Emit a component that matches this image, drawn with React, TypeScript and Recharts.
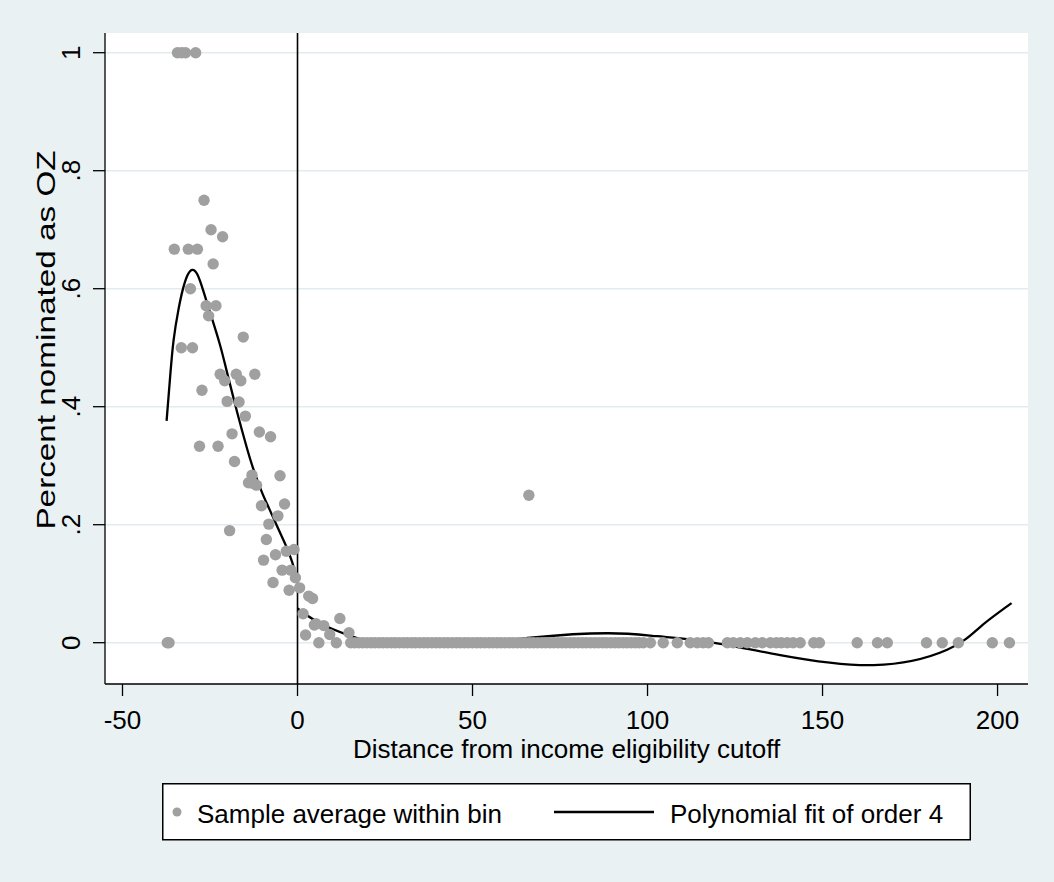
import React from 'react';
import { ComposedChart, Scatter, Line, XAxis, YAxis, CartesianGrid, ReferenceLine, Label } from 'recharts';

// Binned sample averages (left of cutoff and just right of it)
const binX = [
  -34.3, -33.1, -32.0, -29.1,
  -26.7, -24.7, -21.4, -35.2, -31.2, -28.6, -24.1, -30.6, -26.1, -23.3, -25.4, -15.5,
  -33.2, -30.0, -22.1, -20.8, -17.5, -16.2, -12.2, -27.3, -20.1, -16.7, -14.9, -18.7,
  -10.9, -7.7, -28.0, -22.7, -18.0, -5.0, -13.0, -14.0, -11.7, -12.7, -10.3, -3.7,
  -5.6, -19.4, -8.2, -8.9, -3.2, -1.0, -6.3, -9.7, -4.4, -1.9, -0.6, -7.0, -2.4,
  -37.2, -36.7,
  0.6, 3.2, 4.3, 1.6, 12.1, 5.3, 7.5, 2.3, 9.2, 6.1, 11.1, 4.8, 14.7, 66.1,
];
const binY = [
  1.0, 1.0, 1.0, 1.0,
  0.75, 0.70, 0.688, 0.667, 0.667, 0.667, 0.642, 0.60, 0.571, 0.571, 0.554, 0.518,
  0.50, 0.50, 0.455, 0.444, 0.455, 0.444, 0.455, 0.428, 0.409, 0.408, 0.384, 0.354,
  0.357, 0.349, 0.333, 0.333, 0.307, 0.283, 0.284, 0.271, 0.267, 0.270, 0.232, 0.235,
  0.215, 0.190, 0.201, 0.175, 0.155, 0.158, 0.149, 0.140, 0.123, 0.123, 0.110, 0.102, 0.089,
  0, 0,
  0.093, 0.079, 0.075, 0.049, 0.041, 0.032, 0.029, 0.013, 0.014, 0, 0, 0.030, 0.017, 0.25,
];
// Bins whose average is zero
const zeroBinX = [
  15.2, 16.3, 17.5, 18.6, 19.8, 21.0, 22.1, 23.3, 24.4, 25.6, 26.8, 27.9, 29.1, 30.3, 31.4,
  32.6, 33.7, 34.9, 36.1, 37.2, 38.4, 39.6, 40.7, 41.9, 43.0, 44.2, 45.4, 46.5, 47.7, 48.8,
  50.0, 51.2, 52.3, 53.5, 54.7, 55.8, 57.0, 58.1, 59.3, 60.5, 61.6, 62.8, 63.9, 65.1, 66.3,
  67.4, 68.6, 69.8, 70.9, 72.1, 73.2, 74.4, 75.6, 76.7, 77.9, 79.0, 80.2, 81.4, 82.5, 83.7,
  84.9, 86.0, 87.2, 88.3, 89.5, 90.7, 91.8, 93.0, 94.1, 95.3, 96.5, 97.6, 98.8,
  100.8, 104.5, 108.5, 112.2, 114.2, 115.9, 117.4,
  122.8, 124.5, 126.5, 128.5, 130.8, 132.8, 135.1, 136.8, 138.2, 139.9, 141.6, 143.6,
  147.5, 149.1, 159.9, 165.7, 168.5, 179.7, 184.2, 188.8, 198.5, 203.4,
];

// Polynomial fit (order 4)
const fitLeftX = [-37.4, -36.4, -35.4, -34.0, -32.8, -31.5, -30.1, -28.6, -27.0, -25.0, -22.3, -20.3, -17.3, -14.6, -12.7, -10.3, -8.0, -5.5, -3.2, -1.5, 0];
const fitLeftY = [0.376, 0.45, 0.513, 0.565, 0.598, 0.622, 0.632, 0.624, 0.598, 0.560, 0.508, 0.462, 0.392, 0.333, 0.296, 0.257, 0.226, 0.193, 0.163, 0.136, 0.104];
const fitRightX = [0, 6.4, 14.9, 24.5, 38.8, 53.1, 67.4, 88.4, 102.7, 117.0, 137.9, 164.6, 185.6, 195.1, 204.0];
const fitRightY = [0.058, 0.033, 0.012, -0.003, -0.007, -0.001, 0.009, 0.016, 0.011, 0.002, -0.021, -0.038, -0.012, 0.027, 0.067];

const xTicks = [-50, 0, 50, 100, 150, 200];
const yTicks = [0, 0.2, 0.4, 0.6, 0.8, 1];
const yTickLabels = ['0', '.2', '.4', '.6', '.8', '1'];

const xTitle = 'Distance from income eligibility cutoff';
const yTitle = 'Percent nominated as OZ';
const legendDots = 'Sample average within bin';
const legendLine = 'Polynomial fit of order 4';

const scatterData = [
  ...binX.map((x, i) => ({ x, y: binY[i] })),
  ...zeroBinX.map((x) => ({ x, y: 0 })),
];
const leftFit = fitLeftX.map((x, i) => ({ x, y: fitLeftY[i] }));
const rightFit = fitRightX.map((x, i) => ({ x, y: fitRightY[i] }));

const FONT = '"Liberation Sans", Arial, Helvetica, sans-serif';
const BG = '#e9f1f3';
const GRID = '#e2ecef';
const MARK = '#a0a0a0';

const Dot = (p: any) => <circle cx={p.cx} cy={p.cy} r={5.7} fill={MARK} />;

const YTick = (p: any) => {
  const { x, y, payload } = p;
  const idx = yTicks.indexOf(payload.value);
  const label = idx >= 0 ? yTickLabels[idx] : String(payload.value);
  const bx = x - 2;
  return (
    <text x={bx} y={y} transform={`rotate(-90 ${bx} ${y})`} textAnchor="middle" fontSize={26} fontFamily={FONT} fill="#000">
      {label}
    </text>
  );
};

export default function App() {
  return (
    <div style={{ position: 'absolute', left: 0, top: 0, width: 1054, height: 882, background: BG, fontFamily: FONT }}>
      <ComposedChart width={1054} height={882} margin={{ top: 33, right: 26, bottom: 118, left: 0 }}>
        <CartesianGrid vertical={false} horizontal fill="#ffffff" stroke={GRID} strokeWidth={1.5} horizontalValues={yTicks} />
        <XAxis
          type="number"
          dataKey="x"
          domain={[-55, 208.7]}
          ticks={xTicks}
          allowDataOverflow
          height={80}
          tickSize={12}
          tickMargin={15}
          stroke="#000"
          strokeWidth={1.3}
          tick={{ fontSize: 26, fontFamily: FONT, fill: '#000' }}
        >
          <Label
            content={(props: any) => {
              const vb = props.viewBox;
              return (
                <text x={vb.x + vb.width / 2} y={758} textAnchor="middle" fontSize={26} fontFamily={FONT} fill="#000">
                  {xTitle}
                </text>
              );
            }}
          />
        </XAxis>
        <YAxis
          type="number"
          dataKey="y"
          domain={[-0.07, 1.0334]}
          ticks={yTicks}
          allowDataOverflow
          width={105}
          tickSize={12}
          tickMargin={11}
          stroke="#000"
          strokeWidth={1.3}
          tick={<YTick />}
        >
          <Label
            content={() => (
              <text
                x={0}
                y={0}
                transform="translate(55 340) rotate(-90) scale(1.28 1)"
                textAnchor="middle"
                fontSize={26}
                fontFamily={FONT}
                fill="#000"
              >
                {yTitle}
              </text>
            )}
          />
        </YAxis>
        <ReferenceLine x={0} stroke="#000" strokeWidth={1.6} />
        <Scatter data={scatterData} shape={<Dot />} isAnimationActive={false} />
        <Line data={leftFit} dataKey="y" type="natural" dot={false} activeDot={false} stroke="#000" strokeWidth={2.3} isAnimationActive={false} />
        <Line data={rightFit} dataKey="y" type="natural" dot={false} activeDot={false} stroke="#000" strokeWidth={2.3} isAnimationActive={false} />
      </ComposedChart>
      <svg style={{ position: 'absolute', left: 162, top: 783 }} width={810} height={58}>
        <rect x={0.75} y={0.75} width={807.5} height={56} fill="#fff" stroke="#000" strokeWidth={1.5} />
        <circle cx={15} cy={29} r={4.5} fill={MARK} />
        <text x={35} y={40} fontSize={26} fontFamily={FONT} fill="#000">{legendDots}</text>
        <line x1={392} x2={492} y1={29} y2={29} stroke="#000" strokeWidth={2.3} />
        <text x={508} y={40} fontSize={26} fontFamily={FONT} fill="#000">{legendLine}</text>
      </svg>
    </div>
  );
}
